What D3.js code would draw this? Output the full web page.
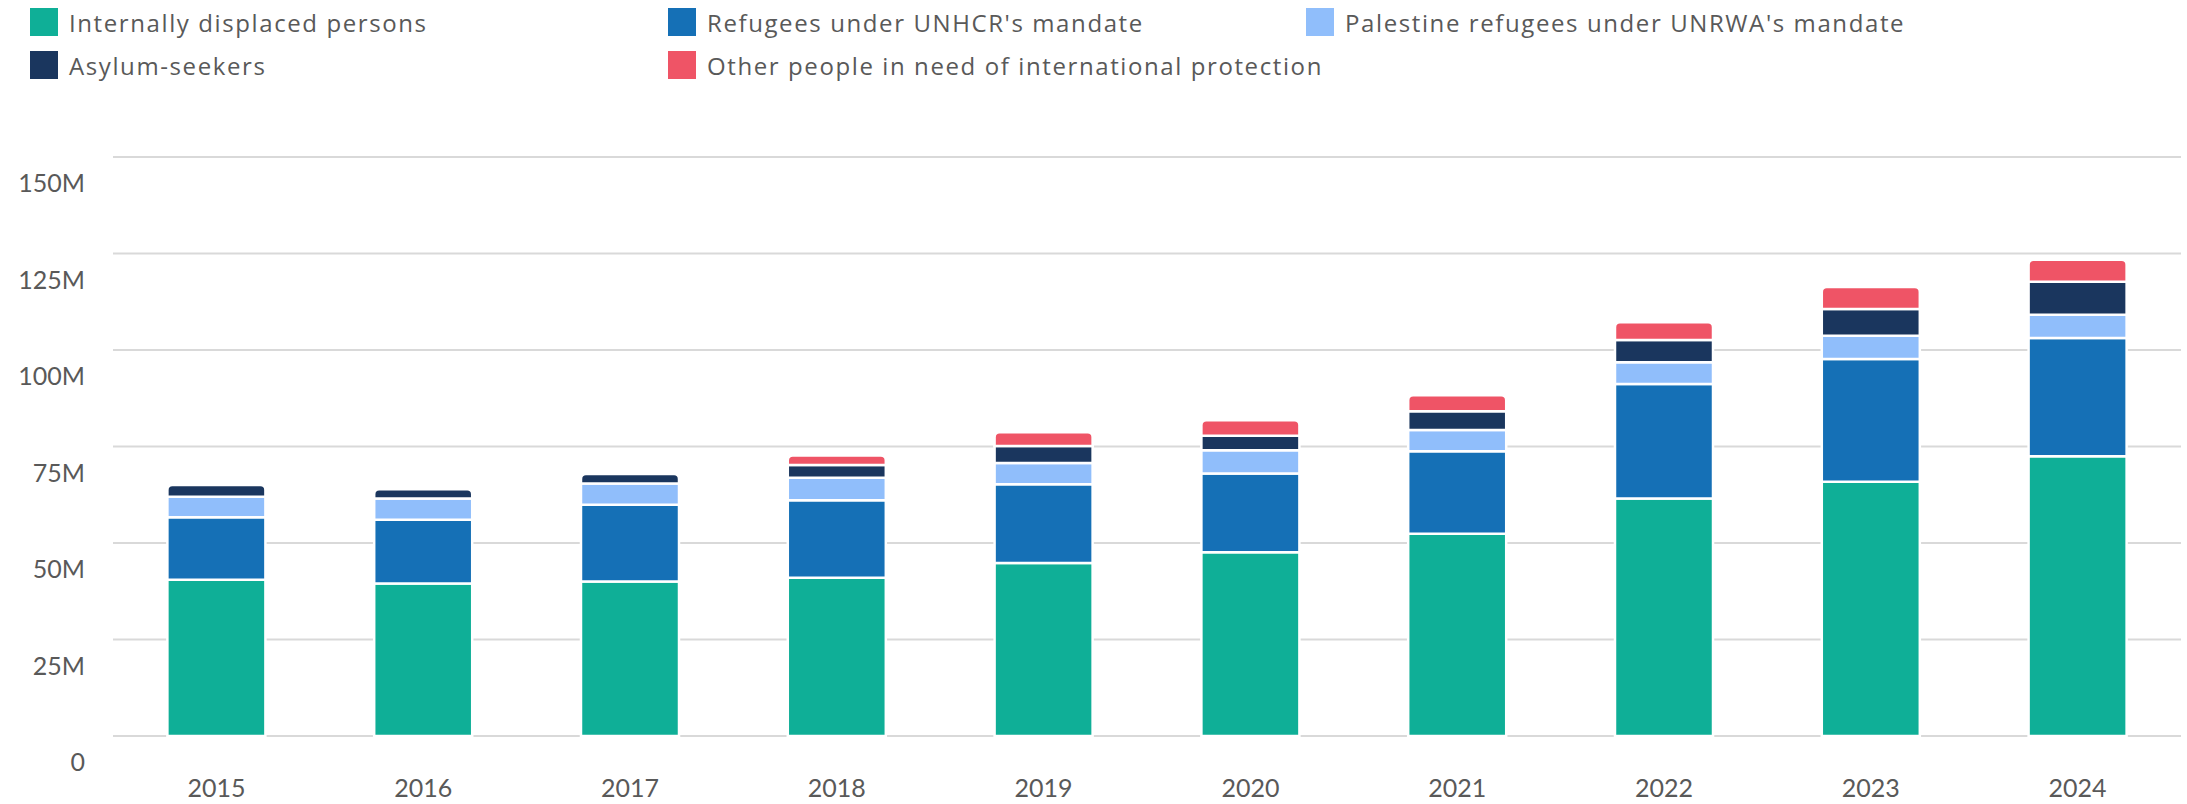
<!DOCTYPE html>
<html>
<head>
<meta charset="utf-8">
<script src="https://cdn.jsdelivr.net/npm/d3@7"></script>
<style>
  body { margin: 0; background: #fff; }
  svg text { font-family: Lato, "Open Sans", sans-serif; fill: #595959; }
  svg g.legend text { font-family: "Open Sans", Lato, sans-serif; }
</style>
</head>
<body>
<svg width="2187" height="804">
  <g class="legend"></g>
  <g class="grid"></g>
  <g class="bars"></g>
  <g class="axis"></g>
</svg>
<script>
var years = ['2015', '2016', '2017', '2018', '2019', '2020', '2021', '2022', '2023', '2024']

var seriesNames = [
  'Internally displaced persons',
  "Refugees under UNHCR's mandate",
  "Palestine refugees under UNRWA's mandate",
  'Asylum-seekers',
  'Other people in need of international protection'
]

var seriesColors = ['#0faf97', '#1570b6', '#90befb', '#1a365e', '#ef5466']

// millions
var idp        = [40.5, 39.5, 40.0, 41.0, 44.8, 47.6, 52.4, 61.5, 65.9, 72.5]
var refugees   = [16.2, 16.5, 19.9, 20.1, 20.4, 20.4, 21.4, 29.7, 31.8, 30.6]
var palestine  = [5.3, 5.5, 5.5, 5.8, 5.5, 6.0, 5.5, 5.6, 6.0, 6.0]
var asylum     = [3.0, 2.4, 2.5, 3.3, 4.4, 3.8, 4.8, 5.8, 6.9, 8.6]
var otherPeople = [0, 0, 0, 2.5, 3.6, 4.0, 4.2, 4.6, 5.7, 5.7]

var yTicks = [0, 25, 50, 75, 100, 125, 150]

var seriesValues = [idp, refugees, palestine, asylum, otherPeople]

var table = years.map(function(y, i) {
  var row = {year: y}
  seriesNames.forEach(function(n, s) { row[n] = seriesValues[s][i] })
  return row
})

var x = d3.scaleBand()
  .domain(years)
  .range([113, 2181])
  .paddingInner(0.526)
  .paddingOuter(0.263)

var y = d3.scaleLinear()
  .domain([0, 150])
  .range([736, 157])

var stack = d3.stack().keys(seriesNames)
var layers = stack(table)

// Legend
var legendPos = [[30, 8], [668, 8], [1306, 8], [30, 51], [668, 51]]

var legend = d3.select('svg g.legend')
  .selectAll('g.item')
  .data(seriesNames)
  .enter()
  .append('g')
  .classed('item', true)
  .attr('transform', function(d, i) { return 'translate(' + legendPos[i][0] + ',' + legendPos[i][1] + ')' })

legend.append('rect')
  .attr('width', 28)
  .attr('height', 28)
  .attr('fill', function(d, i) { return seriesColors[i] })

legend.append('text')
  .attr('x', 39)
  .attr('y', 24)
  .style('font-size', '24px')
  .style('letter-spacing', '1.6px')
  .text(function(d) { return d })

// Grid lines + y labels
var grid = d3.select('svg g.grid')

grid.selectAll('line.gridline')
  .data(yTicks)
  .enter()
  .append('line')
  .classed('gridline', true)
  .attr('x1', 113)
  .attr('x2', 2181)
  .attr('y1', function(d) { return y(d) })
  .attr('y2', function(d) { return y(d) })
  .attr('stroke', '#d9d9d9')
  .attr('stroke-width', 2)

grid.selectAll('text.ylabel')
  .data(yTicks)
  .enter()
  .append('text')
  .classed('ylabel', true)
  .attr('x', 85)
  .attr('y', function(d) { return y(d) + 35 })
  .attr('text-anchor', 'end')
  .style('font-size', '25px')
  .text(function(d) { return d === 0 ? '0' : d + 'M' })

// which layer is the top one for each year
var topLayer = years.map(function(yr, i) {
  var top = 0
  seriesValues.forEach(function(vals, s) { if (vals[i] > 0) top = s })
  return top
})

function segmentPath(d, i, s) {
  var x0 = x(d.data.year), w = x.bandwidth()
  var y0 = y(d[1]), y1 = y(d[0])
  var r = topLayer[i] === s ? 5 : 0
  return 'M' + x0 + ',' + y1 +
    'L' + x0 + ',' + (y0 + r) +
    'Q' + x0 + ',' + y0 + ' ' + (x0 + r) + ',' + y0 +
    'L' + (x0 + w - r) + ',' + y0 +
    'Q' + (x0 + w) + ',' + y0 + ' ' + (x0 + w) + ',' + (y0 + r) +
    'L' + (x0 + w) + ',' + y1 + 'Z'
}

// Bars
d3.select('svg g.bars')
  .selectAll('g.layer')
  .data(layers)
  .enter()
  .append('g')
  .classed('layer', true)
  .attr('fill', function(d, s) { return seriesColors[s] })
  .each(function(layer, s) {
    d3.select(this)
      .selectAll('path')
      .data(layer.filter(function(d) { return d[1] - d[0] > 0 }))
      .enter()
      .append('path')
      .attr('d', function(d) { return segmentPath(d, years.indexOf(d.data.year), s) })
      .attr('stroke', '#fff')
      .attr('stroke-width', 2.5)
  })

// X labels
d3.select('svg g.axis')
  .selectAll('text.xlabel')
  .data(years)
  .enter()
  .append('text')
  .classed('xlabel', true)
  .attr('x', function(d) { return x(d) + x.bandwidth() / 2 })
  .attr('y', 797)
  .attr('text-anchor', 'middle')
  .style('font-size', '25px')
  .text(function(d) { return d })
</script>
</body>
</html>
